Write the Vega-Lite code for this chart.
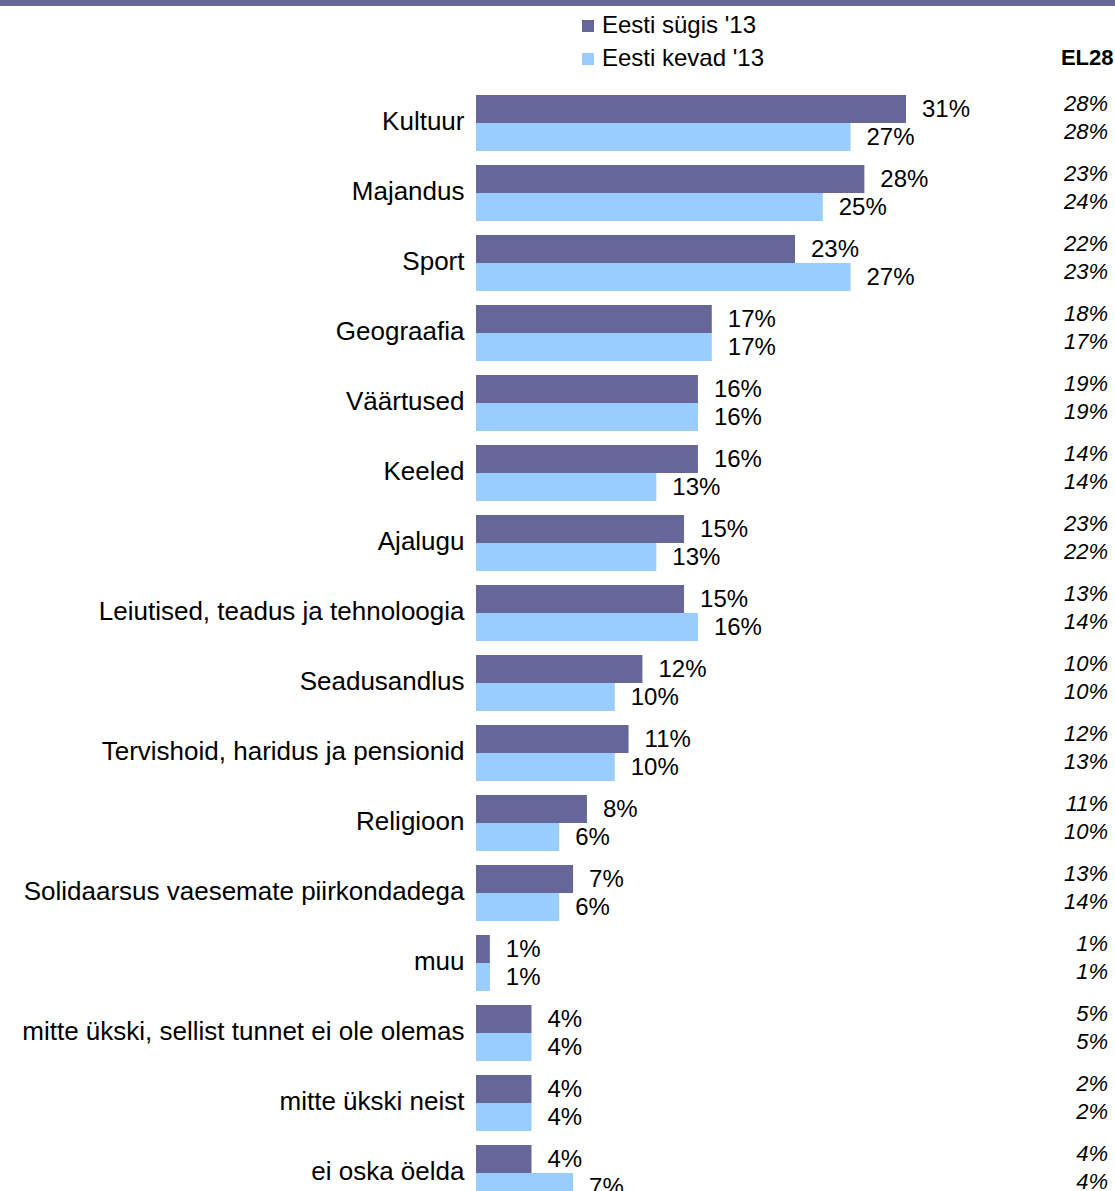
{
  "$schema": "https://vega.github.io/schema/vega-lite/v6.json",
  "width": 639,
  "height": 1120,
  "autosize": {"type": "none"},
  "padding": {"left": 476, "top": 88, "right": 0, "bottom": 0},
  "background": "white",
  "config": {"font": "Liberation Sans", "view": {"stroke": null}},
  "data": {"values": [
    {"cat": "Kultuur", "series": "Eesti sügis '13", "value": 0.31, "el28": 0.28},
    {"cat": "Kultuur", "series": "Eesti kevad '13", "value": 0.27, "el28": 0.28},
    {"cat": "Majandus", "series": "Eesti sügis '13", "value": 0.28, "el28": 0.23},
    {"cat": "Majandus", "series": "Eesti kevad '13", "value": 0.25, "el28": 0.24},
    {"cat": "Sport", "series": "Eesti sügis '13", "value": 0.23, "el28": 0.22},
    {"cat": "Sport", "series": "Eesti kevad '13", "value": 0.27, "el28": 0.23},
    {"cat": "Geograafia", "series": "Eesti sügis '13", "value": 0.17, "el28": 0.18},
    {"cat": "Geograafia", "series": "Eesti kevad '13", "value": 0.17, "el28": 0.17},
    {"cat": "Väärtused", "series": "Eesti sügis '13", "value": 0.16, "el28": 0.19},
    {"cat": "Väärtused", "series": "Eesti kevad '13", "value": 0.16, "el28": 0.19},
    {"cat": "Keeled", "series": "Eesti sügis '13", "value": 0.16, "el28": 0.14},
    {"cat": "Keeled", "series": "Eesti kevad '13", "value": 0.13, "el28": 0.14},
    {"cat": "Ajalugu", "series": "Eesti sügis '13", "value": 0.15, "el28": 0.23},
    {"cat": "Ajalugu", "series": "Eesti kevad '13", "value": 0.13, "el28": 0.22},
    {"cat": "Leiutised, teadus ja tehnoloogia", "series": "Eesti sügis '13", "value": 0.15, "el28": 0.13},
    {"cat": "Leiutised, teadus ja tehnoloogia", "series": "Eesti kevad '13", "value": 0.16, "el28": 0.14},
    {"cat": "Seadusandlus", "series": "Eesti sügis '13", "value": 0.12, "el28": 0.10},
    {"cat": "Seadusandlus", "series": "Eesti kevad '13", "value": 0.10, "el28": 0.10},
    {"cat": "Tervishoid, haridus ja pensionid", "series": "Eesti sügis '13", "value": 0.11, "el28": 0.12},
    {"cat": "Tervishoid, haridus ja pensionid", "series": "Eesti kevad '13", "value": 0.10, "el28": 0.13},
    {"cat": "Religioon", "series": "Eesti sügis '13", "value": 0.08, "el28": 0.11},
    {"cat": "Religioon", "series": "Eesti kevad '13", "value": 0.06, "el28": 0.10},
    {"cat": "Solidaarsus vaesemate piirkondadega", "series": "Eesti sügis '13", "value": 0.07, "el28": 0.13},
    {"cat": "Solidaarsus vaesemate piirkondadega", "series": "Eesti kevad '13", "value": 0.06, "el28": 0.14},
    {"cat": "muu", "series": "Eesti sügis '13", "value": 0.01, "el28": 0.01},
    {"cat": "muu", "series": "Eesti kevad '13", "value": 0.01, "el28": 0.01},
    {"cat": "mitte ükski, sellist tunnet ei ole olemas", "series": "Eesti sügis '13", "value": 0.04, "el28": 0.05},
    {"cat": "mitte ükski, sellist tunnet ei ole olemas", "series": "Eesti kevad '13", "value": 0.04, "el28": 0.05},
    {"cat": "mitte ükski neist", "series": "Eesti sügis '13", "value": 0.04, "el28": 0.02},
    {"cat": "mitte ükski neist", "series": "Eesti kevad '13", "value": 0.04, "el28": 0.02},
    {"cat": "ei oska öelda", "series": "Eesti sügis '13", "value": 0.04, "el28": 0.04},
    {"cat": "ei oska öelda", "series": "Eesti kevad '13", "value": 0.07, "el28": 0.04}
  ]},
  "layer": [
    {
      "layer": [
        {
          "mark": {"type": "bar"},
          "encoding": {
            "y": {"field": "cat", "type": "nominal", "sort": null, "title": null,
              "scale": {"paddingInner": 0.2, "paddingOuter": 0.1},
              "axis": {"ticks": false, "domain": false, "grid": false, "labelPadding": 12, "labelFontSize": 26, "labelColor": "black", "labelLimit": 700, "labelFont": "Liberation Sans", "labelOffset": -1}},
            "yOffset": {"field": "series", "type": "nominal", "scale": {"domain": ["Eesti sügis '13", "Eesti kevad '13"], "paddingInner": 0, "paddingOuter": 0}},
            "x": {"field": "value", "type": "quantitative", "title": "EL28",
              "scale": {"domain": [0, 0.4607], "nice": false, "zero": true},
              "axis": {"orient": "top", "labels": false, "ticks": false, "domain": false, "grid": false, "titleFontSize": 22, "titleFontWeight": "bold", "titleColor": "black", "titleAnchor": "end", "titleAlign": "right", "titleX": 637, "titleY": -31, "titleBaseline": "middle", "titleFont": "Liberation Sans"}},
            "color": {"field": "series", "type": "nominal",
              "scale": {"domain": ["Eesti sügis '13", "Eesti kevad '13"], "range": ["#666699", "#99CCFF"]},
              "legend": {"orient": "none", "legendX": 100, "legendY": -74, "title": null, "symbolType": "square", "symbolSize": 144, "symbolStrokeWidth": 0, "labelFontSize": 24, "labelColor": "black", "labelFont": "Liberation Sans", "labelLimit": 400, "rowPadding": 9, "padding": 0, "labelOffset": 2}}
          }
        },
        {
          "mark": {"type": "text", "align": "left", "baseline": "middle", "dx": 16, "dy": 1, "fontSize": 24, "color": "black", "font": "Liberation Sans"},
          "encoding": {
            "y": {"field": "cat", "type": "nominal", "sort": null, "title": null},
            "yOffset": {"field": "series", "type": "nominal", "scale": {"domain": ["Eesti sügis '13", "Eesti kevad '13"], "paddingInner": 0, "paddingOuter": 0}},
            "x": {"field": "value", "type": "quantitative", "title": "EL28", "scale": {"domain": [0, 0.4607], "nice": false, "zero": true}},
            "text": {"field": "value", "type": "quantitative", "format": ".0%"}
          }
        },
        {
          "mark": {"type": "text", "align": "right", "baseline": "middle", "dy": -5, "fontSize": 22, "fontStyle": "italic", "color": "black", "font": "Liberation Sans"},
          "encoding": {
            "y": {"field": "cat", "type": "nominal", "sort": null, "title": null},
            "yOffset": {"field": "series", "type": "nominal", "scale": {"domain": ["Eesti sügis '13", "Eesti kevad '13"], "paddingInner": 0, "paddingOuter": 0}},
            "x": {"datum": 0.4557, "type": "quantitative", "title": "EL28", "scale": {"domain": [0, 0.4607], "nice": false, "zero": true}},
            "text": {"field": "el28", "type": "quantitative", "format": ".0%"}
          }
        }
      ]
    },
    {
      "mark": {"type": "rule", "strokeWidth": 6, "color": "#666699"},
      "encoding": {
        "x": {"datum": -0.3432, "type": "quantitative", "title": "EL28", "scale": {"domain": [0, 0.4607], "nice": false, "zero": true}},
        "x2": {"datum": 0.4607},
        "y": {"datum": -85, "type": "quantitative", "scale": {"domain": [0, 1120], "range": [0, 1120]}, "axis": null}
      }
    }
  ],
  "resolve": {"scale": {"y": "independent"}}
}
